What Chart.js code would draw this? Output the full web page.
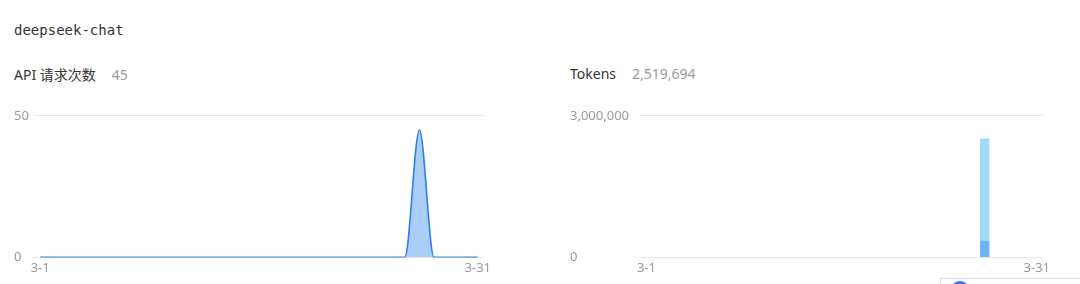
<!DOCTYPE html>
<html>
<head>
<meta charset="utf-8">
<script src="https://cdn.jsdelivr.net/npm/chart.js@4.4.1/dist/chart.umd.min.js"></script>
<style>
  html, body { margin: 0; padding: 0; background: #fff; overflow: hidden; }
  body { width: 1080px; height: 284px; position: relative; font-family: "Noto Sans", "Noto Sans CJK SC", sans-serif; }
  .model { position: absolute; left: 14px; top: 22px; font: 14px "DejaVu Sans Mono", monospace; color: #333; }
  .head { position: absolute; top: 64px; font-size: 14px; color: #333; font-family: "Noto Sans", "Noto Sans CJK SC", sans-serif; }
  .head span { color: #999; margin-left: 16px; }
  .box { position: absolute; }
  .popup { position: absolute; left: 940px; top: 278px; width: 160px; height: 40px; border: 1px solid #ddd; background: #fff; }
  .popup i { position: absolute; left: 9px; top: 2px; width: 20px; height: 20px; border-radius: 50%; background: #4d6bfe; }
</style>
</head>
<body>
<div class="model">deepseek-chat</div>
<div class="head" style="left:14px">API 请求次数<span>45</span></div>
<div class="head" style="left:570px">Tokens<span>2,519,694</span></div>
<div class="box" style="left:14px; top:106px; width:480px; height:173px;"><canvas id="requestsChart"></canvas></div>
<div class="box" style="left:570px; top:106px; width:483px; height:173px;"><canvas id="tokensChart"></canvas></div>
<div class="popup"><i></i></div>
<script>
const days = ['3-1', '3-2', '3-3', '3-4', '3-5', '3-6', '3-7', '3-8', '3-9', '3-10',
    '3-11', '3-12', '3-13', '3-14', '3-15', '3-16', '3-17', '3-18', '3-19', '3-20',
    '3-21', '3-22', '3-23', '3-24', '3-25', '3-26', '3-27', '3-28', '3-29', '3-30', '3-31'];
const requests = [0, 0, 0, 0, 0, 0, 0, 0, 0, 0, 0, 0, 0, 0, 0, 0, 0, 0, 0, 0,
    0, 0, 0, 0, 0, 0, 45, 0, 0, 0, 0];
const tokensBottom = [0, 0, 0, 0, 0, 0, 0, 0, 0, 0, 0, 0, 0, 0, 0, 0, 0, 0, 0, 0,
    0, 0, 0, 0, 0, 0, 360000, 0, 0, 0, 0];
const tokensTop = [0, 0, 0, 0, 0, 0, 0, 0, 0, 0, 0, 0, 0, 0, 0, 0, 0, 0, 0, 0,
    0, 0, 0, 0, 0, 0, 2159694, 0, 0, 0, 0];
const requestTicks = [0, 50];
const tokenTicks = [0, 3000000];

document.addEventListener('DOMContentLoaded', function () {
    const tickFont = { family: '"Noto Sans", sans-serif', size: 13 };

    function xAxis() {
        return {
            offset: true,
            grid: { display: false, drawTicks: false },
            border: { display: false },
            ticks: {
                color: '#999', font: tickFont, padding: 3, autoSkip: false, maxRotation: 0,
                callback: function (v, i) { return (i === 0 || i === days.length - 1) ? days[i] : ''; }
            }
        };
    }

    function yAxis(ticks, width) {
        return {
            min: ticks[0],
            max: ticks[ticks.length - 1],
            afterBuildTicks: function (axis) { axis.ticks = ticks.map(function (v) { return { value: v }; }); },
            afterFit: function (axis) { if (width) axis.width = width; },
            grid: { color: '#e6e6e9', drawTicks: false },
            border: { display: false },
            ticks: {
                color: '#999', font: tickFont, padding: 2, crossAlign: 'far',
                callback: function (v) { return v.toLocaleString('en-US'); }
            }
        };
    }

    // API requests
    const requestsChart = new Chart(document.getElementById('requestsChart'), {
        type: 'line',
        data: {
            labels: days,
            datasets: [{
                data: requests,
                borderColor: '#2f7fe6',
                backgroundColor: '#a9cdf7',
                borderWidth: 1.6,
                fill: 'origin',
                pointRadius: 0,
                cubicInterpolationMode: 'monotone'
            }]
        },
        options: {
            responsive: true,
            maintainAspectRatio: false,
            animation: false,
            plugins: { legend: { display: false }, tooltip: { enabled: false } },
            scales: { x: xAxis(), y: yAxis(requestTicks, 0) }
        }
    });

    // Tokens
    const tokensChart = new Chart(document.getElementById('tokensChart'), {
        type: 'bar',
        data: {
            labels: days,
            datasets: [
                { data: tokensBottom, backgroundColor: '#6db3fb' },
                { data: tokensTop, backgroundColor: '#9fd8fb' }
            ]
        },
        options: {
            responsive: true,
            maintainAspectRatio: false,
            animation: false,
            plugins: { legend: { display: false }, tooltip: { enabled: false } },
            scales: {
                x: Object.assign(xAxis(), { stacked: true }),
                y: Object.assign(yAxis(tokenTicks, 70), { stacked: true })
            }
        }
    });
});
</script>
</body>
</html>
